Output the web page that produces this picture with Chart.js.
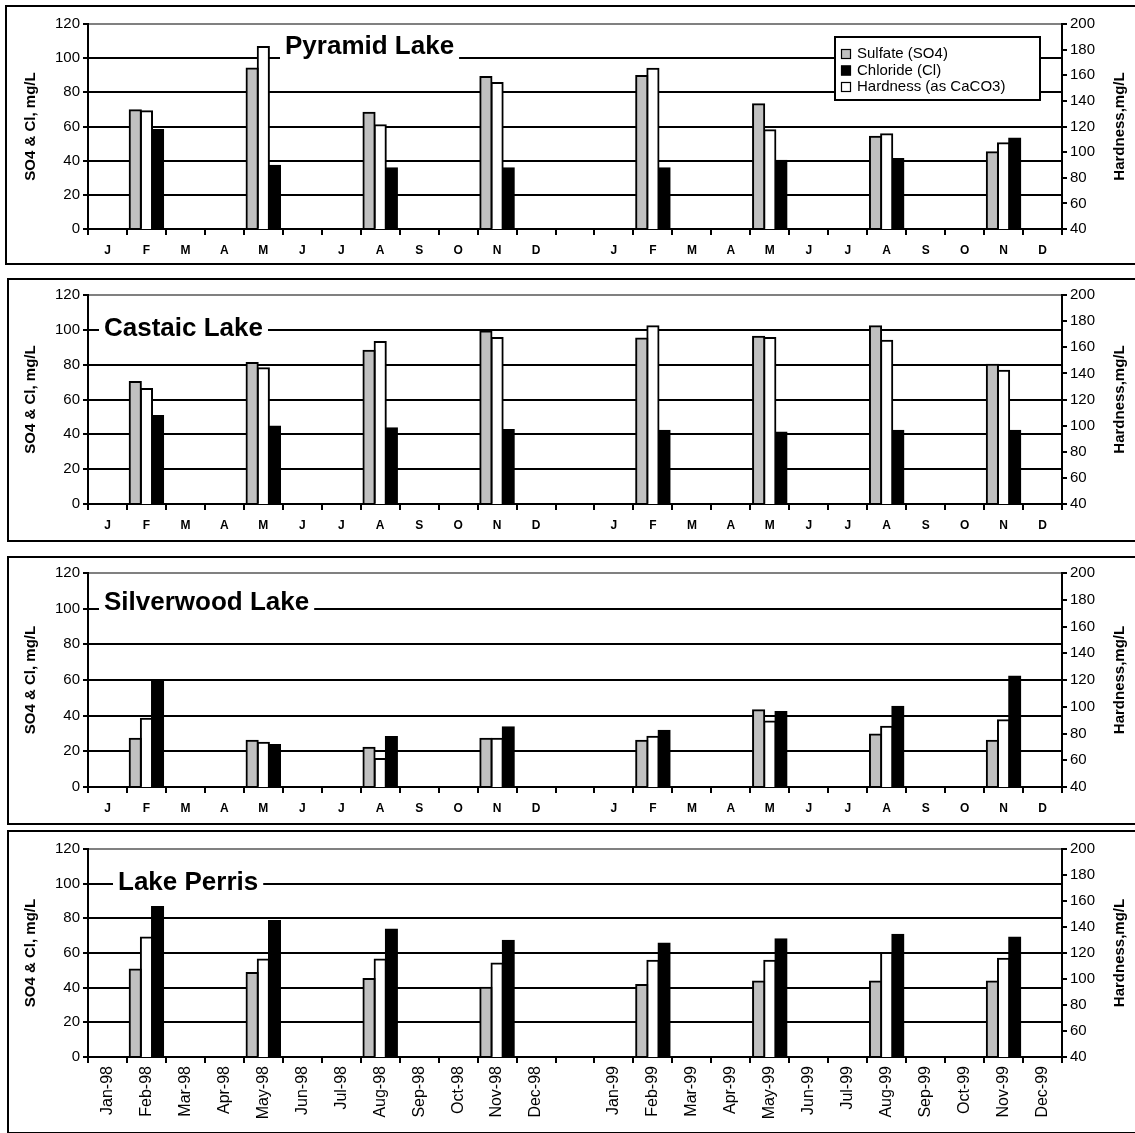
<!DOCTYPE html>
<html><head><meta charset="utf-8">
<script src="https://cdn.jsdelivr.net/npm/chart.js@4.4.1/dist/chart.umd.min.js"></script>
<style>
html,body{margin:0;padding:0;background:#fff;width:1135px;height:1133px;overflow:hidden;position:relative;}
.panel{position:absolute;border:2px solid #000;box-sizing:border-box;}
canvas{position:absolute;left:0;}
</style></head><body>
<script>
// ---------- data ----------
const _ = null;
const monthLetters = ['J','F','M','A','M','J','J','A','S','O','N','D','','J','F','M','A','M','J','J','A','S','O','N','D'];
const monthDates = ['Jan-98','Feb-98','Mar-98','Apr-98','May-98','Jun-98','Jul-98','Aug-98','Sep-98','Oct-98','Nov-98','Dec-98','',
                    'Jan-99','Feb-99','Mar-99','Apr-99','May-99','Jun-99','Jul-99','Aug-99','Sep-99','Oct-99','Nov-99','Dec-99'];
const seriesNames = ['Sulfate (SO4)','Chloride (Cl)','Hardness (as CaCO3)'];
const lakeNames = ['Pyramid Lake','Castaic Lake','Silverwood Lake','Lake Perris'];
const leftAxisTitle = 'SO4 & Cl, mg/L';
const rightAxisTitle = 'Hardness,mg/L';
const leftTicks = {min:0, max:120, step:20};
const rightTicks = {min:40, max:200, step:20};

//                       J  F    M A M    J J A    S O N    D  - J  F    M A M    J J A    S O N    D
const pyramidSulfate   = [_,69.5,_,_,94,  _,_,68,  _,_,89,  _, _,_,89.5,_,_,73,  _,_,54,  _,_,45,  _];
const pyramidChloride  = [_,58,  _,_,37,  _,_,35.5,_,_,35.5,_, _,_,35.5,_,_,40,  _,_,41,  _,_,53,  _];
const pyramidHardness  = [_,132, _,_,182, _,_,121, _,_,154, _, _,_,165, _,_,117, _,_,114, _,_,107, _];

const castaicSulfate   = [_,70,  _,_,81,  _,_,88,  _,_,99,  _, _,_,95,  _,_,96,  _,_,102, _,_,80,  _];
const castaicChloride  = [_,50.5,_,_,44.5,_,_,43.5,_,_,42.5,_, _,_,42,  _,_,41,  _,_,42,  _,_,42,  _];
const castaicHardness  = [_,128, _,_,144, _,_,164, _,_,167, _, _,_,176, _,_,167, _,_,165, _,_,142, _];

const silverSulfate    = [_,27,  _,_,26,  _,_,22,  _,_,27,  _, _,_,26,  _,_,43,  _,_,29.5,_,_,26,  _];
const silverChloride   = [_,59,  _,_,23.5,_,_,28,  _,_,33.5,_, _,_,31.5,_,_,42,  _,_,45,  _,_,62,  _];
const silverHardness   = [_,91,  _,_,73,  _,_,61,  _,_,76,  _, _,_,77.5,_,_,89,  _,_,85,  _,_,90,  _];

const perrisSulfate    = [_,50.5,_,_,48.5,_,_,45,  _,_,40,  _, _,_,41.5,_,_,43.5,_,_,43.5,_,_,43.5,_];
const perrisChloride   = [_,86.5,_,_,78.5,_,_,73.5,_,_,67,  _, _,_,65.5,_,_,68,  _,_,70.5,_,_,69,  _];
const perrisHardness   = [_,132, _,_,115, _,_,115, _,_,112, _, _,_,114, _,_,114, _,_,120, _,_,115.5,_];

// ---------- layout / style ----------
const FONT = "'Liberation Sans', Arial, Helvetica, sans-serif";
Chart.defaults.font.family = FONT;
Chart.defaults.color = '#000';

const panels = [
  {name:lakeNames[0], labels:monthLetters, so4:pyramidSulfate, cl:pyramidChloride, hard:pyramidHardness,
   boxLeft:5, top:5, height:260, padTop:19, xHeight:36, titleOff:197, titleVal:107, legend:true, rotate:false},
  {name:lakeNames[1], labels:monthLetters, so4:castaicSulfate, cl:castaicChloride, hard:castaicHardness,
   boxLeft:7, top:278, height:264, padTop:17, xHeight:38, titleOff:16, titleVal:101, legend:false, rotate:false},
  {name:lakeNames[2], labels:monthLetters, so4:silverSulfate, cl:silverChloride, hard:silverHardness,
   boxLeft:7, top:556, height:269, padTop:17, xHeight:38, titleOff:16, titleVal:104, legend:false, rotate:false},
  {name:lakeNames[3], labels:monthDates, so4:perrisSulfate, cl:perrisChloride, hard:perrisHardness,
   boxLeft:7, top:830, height:304, padTop:19, xHeight:77, titleOff:30, titleVal:101, legend:false, rotate:true}
];

const COLORS = {so4:'#C0C0C0', cl:'#000000', hard:'#FFFFFF'};

const decor = {
  id:'lakeDecor',
  afterDraw(chart, args, opts){
    const ctx = chart.ctx, ca = chart.chartArea, y = chart.scales.y;
    ctx.save();
    // lake title with white box
    ctx.font = 'bold 26px ' + FONT;
    const tw = ctx.measureText(opts.title).width;
    const tx = ca.left + opts.titleOff;
    const ty = y.getPixelForValue(opts.titleVal);
    ctx.fillStyle = '#fff';
    ctx.fillRect(tx - 5, ty - 15, tw + 10, 30);
    ctx.fillStyle = '#000';
    ctx.textBaseline = 'middle';
    ctx.textAlign = 'left';
    ctx.fillText(opts.title, tx, ty + 1);
    // right axis title (reads bottom-to-top)
    ctx.font = 'bold 15px ' + FONT;
    ctx.translate(ca.right + 58, (ca.top + ca.bottom) / 2);
    ctx.rotate(-Math.PI / 2);
    ctx.textAlign = 'center';
    ctx.fillText(opts.rightTitle, 0, 0);
    ctx.restore();
    // legend
    if (opts.legend) {
      ctx.save();
      const bw = 205, bh = 63;
      const bx = ca.right - 22 - bw, by = ca.top + 13;
      ctx.fillStyle = '#fff';
      ctx.fillRect(bx, by, bw, bh);
      ctx.lineWidth = 2; ctx.strokeStyle = '#000';
      ctx.strokeRect(bx, by, bw, bh);
      const order = [seriesNames[0], seriesNames[1], seriesNames[2]];
      ctx.font = '15px ' + FONT;
      ctx.textBaseline = 'middle';
      ctx.textAlign = 'left';
      order.forEach((lab, i) => {
        const ds = chart.data.datasets.find(d => d.label === lab);
        const cy = by + 17 + i * 16.5;
        ctx.fillStyle = ds.backgroundColor;
        ctx.fillRect(bx + 6, cy - 5, 10, 10);
        ctx.lineWidth = 1.2; ctx.strokeStyle = '#000';
        ctx.strokeRect(bx + 6.5, cy - 4.5, 9, 9);
        ctx.fillStyle = '#000';
        ctx.fillText(lab, bx + 22, cy);
      });
      ctx.restore();
    }
  }
};

panels.forEach((p, idx) => {
  const box = document.createElement('div');
  box.className = 'panel';
  box.style.left = p.boxLeft + 'px';
  box.style.top = p.top + 'px';
  box.style.width = (1145 - p.boxLeft) + 'px';
  box.style.height = p.height + 'px';
  document.body.appendChild(box);

  const cv = document.createElement('canvas');
  cv.width = 1135; cv.height = p.height;
  cv.style.top = p.top + 'px';
  cv.style.width = '1135px'; cv.style.height = p.height + 'px';
  document.body.appendChild(cv);

  const barStyle = {borderColor:'#000', borderWidth:2, inflateAmount:1, borderSkipped:'start'};
  new Chart(cv.getContext('2d'), {
    type:'bar',
    data:{
      labels:p.labels,
      datasets:[
        Object.assign({label:seriesNames[0], data:p.so4, backgroundColor:COLORS.so4, yAxisID:'y'}, barStyle),
        Object.assign({label:seriesNames[2], data:p.hard, backgroundColor:COLORS.hard, yAxisID:'y2'}, barStyle),
        Object.assign({label:seriesNames[1], data:p.cl, backgroundColor:COLORS.cl, yAxisID:'y'}, barStyle)
      ]
    },
    options:{
      responsive:false, animation:false, devicePixelRatio:1,
      layout:{padding:{top:p.padTop, left:0, right:0, bottom:0}},
      datasets:{bar:{categoryPercentage:0.86, barPercentage:1}},
      plugins:{
        legend:{display:false}, tooltip:{enabled:false},
        lakeDecor:{title:p.name, titleOff:p.titleOff, titleVal:p.titleVal, legend:p.legend, rightTitle:rightAxisTitle}
      },
      scales:{
        x:{
          offset:true,
          grid:{offset:true, drawOnChartArea:false, drawTicks:true, tickLength:6, tickColor:'#000', tickWidth:2, color:'#000', lineWidth:2},
          border:{display:true, color:'#000', width:2},
          ticks:{autoSkip:false, color:'#000',
                 maxRotation:p.rotate ? 90 : 0, minRotation:p.rotate ? 90 : 0,
                 padding:p.rotate ? 3 : 8,
                 font:p.rotate ? {size:16, weight:'normal'} : {size:12, weight:'bold'}},
          afterFit:(s) => { s.height = p.xHeight; }
        },
        y:{
          position:'left', min:leftTicks.min, max:leftTicks.max,
          ticks:{stepSize:leftTicks.step, color:'#000', padding:3, font:{size:15}},
          grid:{color:(c) => c.tick && c.tick.value === leftTicks.max ? '#808080' : '#000',
                lineWidth:2, tickLength:5, tickColor:'#000', tickWidth:2, drawTicks:true},
          border:{display:true, color:'#000', width:2},
          title:{display:true, text:leftAxisTitle, color:'#000', font:{size:15, weight:'bold', lineHeight:1.2}, padding:{top:22, bottom:0}},
          afterFit:(s) => { s.width = 88; }
        },
        y2:{
          position:'right', min:rightTicks.min, max:rightTicks.max,
          ticks:{stepSize:rightTicks.step, color:'#000', padding:3, font:{size:15}},
          grid:{drawOnChartArea:false, lineWidth:2, tickLength:5, tickColor:'#000', tickWidth:2, color:'#000'},
          border:{display:true, color:'#000', width:2},
          afterFit:(s) => { s.width = 73; }
        }
      }
    },
    plugins:[decor]
  });
});
</script>
</body></html>
